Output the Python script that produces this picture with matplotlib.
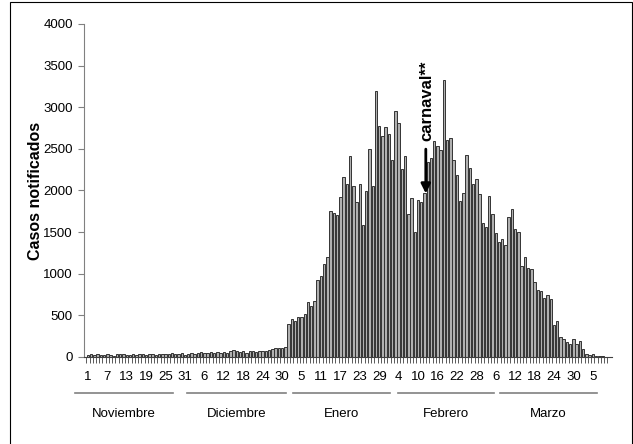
import numpy as np
import matplotlib
matplotlib.use('Agg')
import matplotlib.pyplot as plt
from matplotlib.patches import Rectangle

plt.rcParams['font.family'] = ['Liberation Sans', 'DejaVu Sans']

# casos diarios, 1 nov - 9 mar
nov = [25, 30, 20, 35, 25, 20, 30, 25, 15, 30, 35, 30, 25, 20, 30,
       25, 35, 30, 25, 30, 35, 25, 30, 40, 35, 30, 45, 40, 35, 45]
dic = [25, 40, 45, 40, 45, 55, 45, 50, 55, 50, 65, 50, 60, 50, 75, 80,
       70, 60, 70, 45, 75, 70, 65, 70, 75, 75, 85, 90, 105, 110, 110, 120]
ene = [392, 460, 432, 476, 476, 516, 656, 608, 676, 920, 976, 1112, 1196,
       1752, 1724, 1700, 1916, 2164, 2080, 2412, 2048, 1864, 2072, 1580,
       1996, 2496, 2052, 3196, 2780, 2652, 2764, 2676, 2364, 2956]
feb = [2808, 2256, 2420, 1712, 1908, 1504, 1880, 1856, 1972, 2344, 2396,
       2592, 2540, 2492, 3332, 2612, 2628, 2364, 2184, 1872, 1972, 2428,
       2268, 2076, 2132, 1956, 1612, 1556, 1932, 1716]
mar = [1484, 1380, 1420, 1340, 1680, 1780, 1532, 1500, 1092, 1196, 1068,
       1060, 896, 808, 796, 704, 742, 692, 384, 436, 244, 216, 180, 156,
       216, 156, 188, 92, 40, 28, 32, 16, 10, 8, 5]
casos = nov + dic + ene + feb + mar

dias = ['1', '7', '13', '19', '25', '31', '6', '12', '18', '24', '30',
        '5', '11', '17', '23', '29', '4', '10', '16', '22', '28',
        '6', '12', '18', '24', '30', '5']
meses = ['Noviembre', 'Diciembre', 'Enero', 'Febrero', 'Marzo']

fig = plt.figure(figsize=(6.33, 4.44), dpi=100)
ax = fig.add_axes([0.1327, 0.196, 0.834, 0.75])

x = np.arange(len(casos))
ax.bar(x, casos, width=0.75, color='#b0b0b0', edgecolor='#333333', linewidth=0.7)

ax.set_xlim(-1.2, 161.9)
ax.set_ylim(0, 4000)
ax.set_yticks(np.arange(0, 4001, 500))
ax.tick_params(axis='y', labelsize=9.5, length=4, color='#808080', pad=4)

ax.set_xticks(np.arange(0, 6 * len(dias), 6))
ax.set_xticklabels(dias, fontsize=9.5)
ax.set_xticks(np.arange(-0.5, len(casos), 1), minor=True)
ax.tick_params(axis='x', which='major', length=0, pad=10)
ax.tick_params(axis='x', which='minor', length=4, color='#404040', width=0.6)

for s in ['top', 'right']:
    ax.spines[s].set_visible(False)
ax.spines['left'].set_color('#808080')
ax.spines['bottom'].set_color('#404040')

ax.set_ylabel('Casos notificados', fontsize=11.5, fontweight='bold', labelpad=0)

# meses bajo el eje
tr = ax.get_xaxis_transform()
tramos = [(-4.0, 26.3), (30.6, 61.2), (63.3, 93.3), (95.8, 125.5), (127.3, 157.2)]
for m, (a, b) in zip(meses, tramos):
    ax.plot([a, b], [-0.108, -0.108], color='#808080', lw=1.2,
            transform=tr, clip_on=False)
    ax.text((a + b) / 2, -0.17, m, transform=tr, ha='center', va='center',
            fontsize=9.5)

# carnaval
ax.annotate('', xy=(104.4, 1930), xytext=(104.4, 2530),
            arrowprops=dict(arrowstyle='-|>', color='black', lw=2,
                            mutation_scale=14))
ax.text(104.7, 2600, 'carnaval**', rotation=90, ha='center', va='bottom',
        fontsize=12, fontweight='bold')

fig.add_artist(Rectangle((0.016, -0.01), 0.983, 1.005, transform=fig.transFigure,
                         fill=False, edgecolor='black', lw=0.8))

fig.savefig('out.png', dpi=100)
